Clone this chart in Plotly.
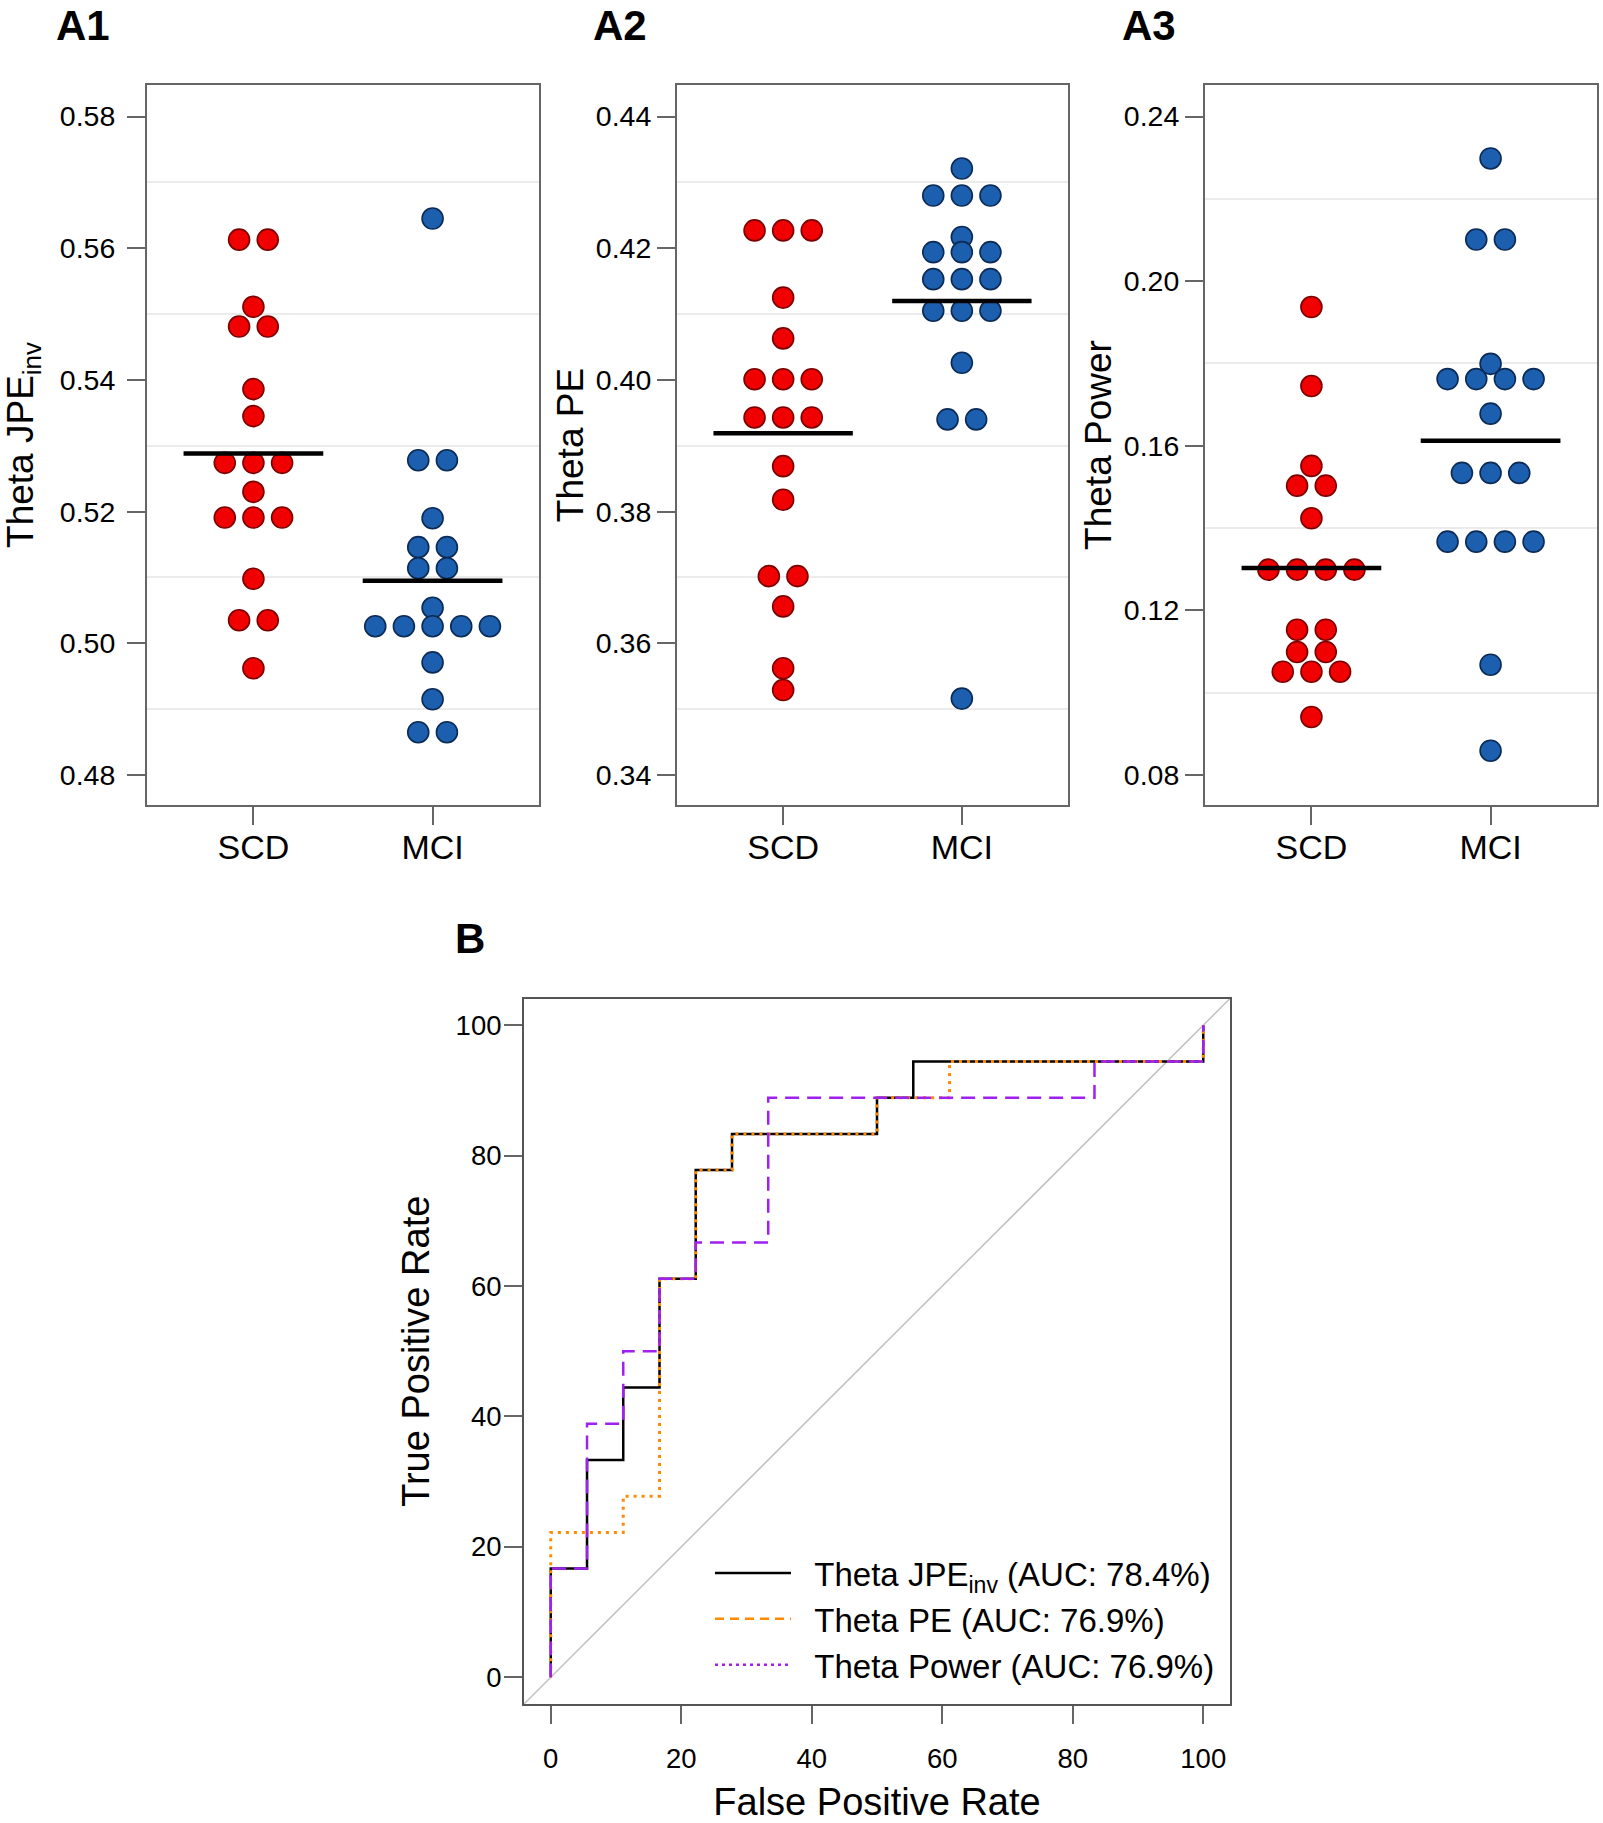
import numpy as np
import plotly.graph_objects as go

# ---------------- data ----------------
categories = ["SCD", "MCI"]

jpe_scd = [0.5613, 0.5613, 0.5511, 0.5481, 0.5481, 0.5386, 0.5345, 0.5274, 0.5274, 0.5274,
           0.5230, 0.5191, 0.5191, 0.5191, 0.5098, 0.5035, 0.5035, 0.4962]
jpe_mci = [0.5645, 0.5278, 0.5278, 0.5190, 0.5146, 0.5146, 0.5114, 0.5114, 0.5054,
           0.5026, 0.5026, 0.5026, 0.5026, 0.5026, 0.4971, 0.4915, 0.4865, 0.4865]

pe_scd = [0.4227, 0.4227, 0.4227, 0.4125, 0.4063, 0.4001, 0.4001, 0.4001, 0.3943, 0.3943,
          0.3943, 0.3869, 0.3818, 0.3702, 0.3702, 0.3656, 0.3562, 0.3529]
pe_mci = [0.4321, 0.4280, 0.4280, 0.4280, 0.4217, 0.4194, 0.4194, 0.4194, 0.4153, 0.4153,
          0.4153, 0.4105, 0.4105, 0.4105, 0.4026, 0.3940, 0.3940, 0.3516]

pow_scd = [0.1937, 0.1745, 0.1551, 0.1503, 0.1503, 0.1424, 0.1299, 0.1299, 0.1299, 0.1299,
           0.1153, 0.1153, 0.1099, 0.1099, 0.1051, 0.1051, 0.1051, 0.0941]
pow_mci = [0.2298, 0.2101, 0.2101, 0.1799, 0.1762, 0.1762, 0.1762, 0.1762, 0.1678,
           0.1534, 0.1534, 0.1534, 0.1367, 0.1367, 0.1367, 0.1367, 0.1068, 0.0859]

panel_titles = ["Theta JPE<sub>inv</sub>", "Theta PE", "Theta Power"]
panel_letters = ["A1", "A2", "A3"]
panel_ticks = [[0.48, 0.50, 0.52, 0.54, 0.56, 0.58],
               [0.34, 0.36, 0.38, 0.40, 0.42, 0.44],
               [0.08, 0.12, 0.16, 0.20, 0.24]]
panel_grid = [[0.49, 0.51, 0.53, 0.55, 0.57],
              [0.35, 0.37, 0.39, 0.41, 0.43],
              [0.10, 0.14, 0.18, 0.22]]

# ROC curves (percent): corner points of step functions
roc_jpe_fpr = [0, 0, 5.56, 11.11, 16.67, 22.22, 27.78, 50.00, 55.56, 100, 100]
roc_jpe_tpr = [0, 16.67, 33.33, 44.44, 61.11, 77.78, 83.33, 88.89, 94.44, 94.44, 100]
roc_pe_fpr = [0, 0, 11.11, 16.67, 22.22, 27.78, 50.00, 61.11, 100, 100]
roc_pe_tpr = [0, 22.22, 27.78, 61.11, 77.78, 83.33, 88.89, 94.44, 94.44, 100]
roc_pow_fpr = [0, 0, 5.56, 11.11, 16.67, 22.22, 33.33, 83.33, 100, 100]
roc_pow_tpr = [0, 16.67, 38.89, 50.00, 61.11, 66.67, 88.89, 94.44, 94.44, 100]
roc_labels = ["Theta JPE<sub>inv</sub> (AUC: 78.4%)", "Theta PE (AUC: 76.9%)",
              "Theta Power (AUC: 76.9%)"]
roc_ticks = [0, 20, 40, 60, 80, 100]

# ---------------- styling ----------------
W, H = 1603, 1823
RED, RED_EDGE = "#f00000", "#7a0000"
BLUE, BLUE_EDGE = "#1c5fae", "#0b2a55"
AX = "#666666"
FONT = "Liberation Sans, Arial, Helvetica, sans-serif"
SPACING = 0.16
NB = "\u00a0\u00a0"


def swarm(vals, center):
    vals = np.asarray(vals)
    xs = np.zeros(len(vals))
    for v in np.unique(vals):
        idx = np.where(vals == v)[0]
        n = len(idx)
        for k, i in enumerate(idx):
            xs[i] = center + (k - (n - 1) / 2) * SPACING
    return xs


fig = go.Figure()
groups = [(jpe_scd, jpe_mci), (pe_scd, pe_mci), (pow_scd, pow_mci)]
for p, (scd, mci) in enumerate(groups):
    xa = "x" if p == 0 else f"x{p+1}"
    ya = "y" if p == 0 else f"y{p+1}"
    for ci, (vals, col, edge) in enumerate([(scd, RED, RED_EDGE), (mci, BLUE, BLUE_EDGE)]):
        fig.add_trace(go.Scatter(
            x=swarm(vals, ci), y=vals, mode="markers", xaxis=xa, yaxis=ya,
            marker=dict(size=21, color=col, line=dict(color=edge, width=1.6)),
            showlegend=False, hoverinfo="y"))
    for ci, vals in enumerate([scd, mci]):
        m = float(np.mean(vals))
        fig.add_trace(go.Scatter(
            x=[ci - 0.39, ci + 0.39], y=[m, m], mode="lines", xaxis=xa, yaxis=ya,
            line=dict(color="black", width=4.5), showlegend=False, hoverinfo="skip"))

# ROC
fig.add_trace(go.Scatter(x=[-4.1, 104.1], y=[-4.1, 104.1], mode="lines", xaxis="x4", yaxis="y4",
                         line=dict(color="#c0c0c0", width=1.5), showlegend=False, hoverinfo="skip"))
fig.add_trace(go.Scatter(x=roc_jpe_fpr, y=roc_jpe_tpr, mode="lines", line_shape="hv",
                         xaxis="x4", yaxis="y4", line=dict(color="black", width=2.5),
                         showlegend=False))
fig.add_trace(go.Scatter(x=roc_pe_fpr, y=roc_pe_tpr, mode="lines", line_shape="hv",
                         xaxis="x4", yaxis="y4",
                         line=dict(color="#ff8c00", width=3, dash="3px,5px"),
                         showlegend=False))
fig.add_trace(go.Scatter(x=roc_pow_fpr, y=roc_pow_tpr, mode="lines", line_shape="hv",
                         xaxis="x4", yaxis="y4",
                         line=dict(color="#a020f0", width=2.5, dash="14px,8px"),
                         showlegend=False))
# legend entries (styles as drawn in the original legend)
leg_styles = [dict(color="black", width=2.5),
              dict(color="#ff8c00", width=2.5, dash="9px,6px"),
              dict(color="#a020f0", width=2.5, dash="3px,4px")]
for i, (lab, st) in enumerate(zip(roc_labels, leg_styles)):
    fig.add_trace(go.Scatter(x=[None], y=[None], mode="lines", xaxis="x4", yaxis="y4",
                             name=NB + lab, line=st, legendgroup=f"g{i}", showlegend=True))

# ---------------- layout ----------------
x_doms = [(147, 539), (677, 1068), (1205, 1597)]
y_top, y_bot = 85, 805
title_standoffs = [18, 1, 1]
tick_standoffs = [6, 0, 0]


def px2x(v):
    return v / W


def px2y(v):
    return 1 - v / H


layout = dict(
    width=W, height=H, margin=dict(l=0, r=0, t=0, b=0),
    paper_bgcolor="white", plot_bgcolor="white",
    font=dict(family=FONT, color="black"),
    showlegend=True,
    legend=dict(x=px2x(710), y=px2y(1545), xanchor="left", yanchor="top",
                bgcolor="rgba(0,0,0,0)", font=dict(size=33, family=FONT),
                tracegroupgap=0, itemwidth=76),
)

for p in range(3):
    xk = "xaxis" if p == 0 else f"xaxis{p+1}"
    yk = "yaxis" if p == 0 else f"yaxis{p+1}"
    ya = "y" if p == 0 else f"y{p+1}"
    xa = "x" if p == 0 else f"x{p+1}"
    ticks = panel_ticks[p]
    span = ticks[-1] - ticks[0]
    lo = ticks[0] - span * 30 / 658.5
    hi = ticks[-1] + span * 31.5 / 658.5
    layout[xk] = dict(domain=[px2x(x_doms[p][0]), px2x(x_doms[p][1])], anchor=ya,
                      range=[-0.594, 1.594], tickmode="array", tickvals=[0, 1],
                      ticktext=categories, ticks="outside", ticklen=18, tickwidth=2,
                      tickcolor=AX, showline=True, mirror=True, linecolor=AX, linewidth=2,
                      showgrid=False, zeroline=False, tickfont=dict(size=34),
                      ticklabelstandoff=-7)
    layout[yk] = dict(domain=[px2y(y_bot), px2y(y_top)], anchor=xa,
                      range=[lo, hi], tickmode="array", tickvals=ticks,
                      ticktext=[f"{t:.2f}" for t in ticks], ticks="outside", ticklen=18,
                      tickwidth=2, tickcolor=AX, showline=True, mirror=True, linecolor=AX,
                      linewidth=2, showgrid=False, zeroline=False, tickfont=dict(size=28.5),
                      ticklabelstandoff=tick_standoffs[p],
                      minor=dict(tickmode="array", tickvals=panel_grid[p], showgrid=True,
                                 gridcolor="#ebebeb", gridwidth=1.5, ticks=""),
                      title=dict(text=panel_titles[p], font=dict(size=37),
                                 standoff=title_standoffs[p]))

layout["xaxis4"] = dict(domain=[px2x(524), px2x(1230)], anchor="y4", range=[-4.1, 104.1],
                        tickmode="array", tickvals=roc_ticks, ticks="outside", ticklen=18,
                        tickwidth=2, tickcolor=AX, showline=True, mirror=True, linecolor="#555",
                        linewidth=2, showgrid=False, zeroline=False, tickfont=dict(size=27.5),
                        ticklabelstandoff=11,
                        title=dict(text="False Positive Rate", font=dict(size=38), standoff=20))
layout["yaxis4"] = dict(domain=[px2y(1704), px2y(998.5)], anchor="x4", range=[-4.1, 104.1],
                        tickmode="array", tickvals=roc_ticks, ticks="outside", ticklen=18,
                        tickwidth=2, tickcolor=AX, showline=True, mirror=True, linecolor="#555",
                        linewidth=2, showgrid=False, zeroline=False, tickfont=dict(size=27.5),
                        ticklabelstandoff=-3,
                        title=dict(text="True Positive Rate", font=dict(size=38), standoff=14))

annos = []
for lab, xp in zip(panel_letters, [54, 591, 1120]):
    annos.append(dict(text=f"<b>{lab}</b>", x=px2x(xp), y=px2y(25), xref="paper", yref="paper",
                      xanchor="left", yanchor="middle", showarrow=False,
                      font=dict(size=42, family=FONT)))
annos.append(dict(text="<b>B</b>", x=px2x(453), y=px2y(938), xref="paper", yref="paper",
                  xanchor="left", yanchor="middle", showarrow=False,
                  font=dict(size=42, family=FONT)))
layout["annotations"] = annos

fig.update_layout(**layout)
fig.write_html("out.html")
